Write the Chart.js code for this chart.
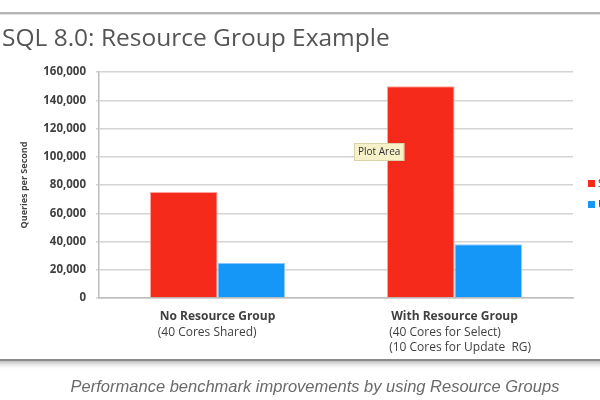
<!DOCTYPE html>
<html>
<head>
<meta charset="utf-8">
<style>
  html, body { margin: 0; padding: 0; background: #fff; }
  #wrap { width: 600px; height: 400px; }
</style>
<script src="https://cdn.jsdelivr.net/npm/chart.js@4.4.1/dist/chart.umd.min.js"></script>
<script>
// chart values
var categories = [
  ['No Resource Group', '(40 Cores Shared)'],
  ['With Resource Group', '(40 Cores for Select)', '(10 Cores for Update  RG)']
];
var seriesNames = ['Select', 'Update'];
var selectQps = [75000, 150000];
var updateQps = [25000, 38000];
var yMax = 160000;
var yStep = 20000;
var titleText = 'SQL 8.0: Resource Group Example';
var captionText = 'Performance benchmark improvements by using Resource Groups';
var yTitle = 'Queries per Second';
var hoverText = 'Plot Area';

var red = '#f62a1b';
var blue = '#1497f7';

// frame, title, legend, category labels, caption
var decor = {
  id: 'decor',
  afterDraw: function (c) {
    var ctx = c.ctx;
    var x = c.scales.x;
    var area = c.chartArea;
    ctx.save();

    // top rule
    ctx.fillStyle = '#b4b4b4';
    ctx.fillRect(0, 12, 600, 2);
    ctx.fillStyle = '#e2e2e2';
    ctx.fillRect(0, 14, 600, 1);

    // title
    ctx.fillStyle = '#555';
    ctx.font = '24.5px "Open Sans"';
    ctx.textAlign = 'left';
    ctx.textBaseline = 'middle';
    ctx.fillText(titleText, 2, 39);

    // y title
    ctx.save();
    ctx.translate(24, (area.top + area.bottom) / 2);
    ctx.rotate(-Math.PI / 2);
    ctx.textAlign = 'center';
    ctx.fillStyle = '#444';
    ctx.font = 'bold 9px "Open Sans"';
    ctx.fillText(yTitle, 0, 0);
    ctx.restore();

    // category labels: first line bold and centred, others left aligned under it
    ctx.textBaseline = 'middle';
    ctx.textAlign = 'left';
    categories.forEach(function (lines, i) {
      var cx = x.getPixelForValue(i);
      ctx.font = 'bold 12px "Open Sans"';
      var w = ctx.measureText(lines[0]).width;
      var left = cx - w / 2;
      ctx.fillStyle = '#404040';
      lines.forEach(function (t, j) {
        ctx.font = (j === 0 ? 'bold ' : '') + '12px "Open Sans"';
        ctx.fillText(t, j === 0 ? left : left - 2, area.bottom + 19 + j * 15.5);
      });
    });

    // legend (runs off the right edge)
    c.data.datasets.forEach(function (ds, i) {
      var ly = 180 + i * 21;
      ctx.fillStyle = ds.backgroundColor;
      ctx.fillRect(588, ly, 7, 7);
      ctx.fillStyle = '#404040';
      ctx.font = '11px "Open Sans"';
      ctx.fillText(ds.label, 598, ly + 4);
    });

    // "Plot Area" hover box
    ctx.font = '10px "Open Sans"';
    var tw = ctx.measureText(hoverText).width;
    ctx.fillStyle = '#f6f1c8';
    ctx.fillRect(354, 143, tw + 8, 18);
    ctx.strokeStyle = '#d9d3a8';
    ctx.lineWidth = 1;
    ctx.strokeRect(354.5, 143.5, tw + 7, 17);
    ctx.fillStyle = '#333';
    ctx.fillText(hoverText, 358, 152.5);

    // bottom rule with shadow
    var g = ctx.createLinearGradient(0, 360, 0, 370);
    g.addColorStop(0, 'rgba(120,120,120,0.6)');
    g.addColorStop(1, 'rgba(255,255,255,0)');
    ctx.fillStyle = g;
    ctx.fillRect(0, 360, 600, 10);
    ctx.fillStyle = '#8a8a8a';
    ctx.fillRect(0, 359, 600, 2);

    // caption
    ctx.fillStyle = '#6a6a6a';
    ctx.font = 'italic 16.5px "Liberation Sans"';
    ctx.textAlign = 'center';
    ctx.fillText(captionText, 315, 387);

    ctx.restore();
  }
};

document.addEventListener('DOMContentLoaded', function () {
  var ctx = document.getElementById('myChart');
  new Chart(ctx, {
    type: 'bar',
    data: {
      labels: categories,
      datasets: [{
        label: seriesNames[0],
        data: selectQps,
        backgroundColor: red,
        borderColor: 'rgba(255,140,130,0.8)',
        borderWidth: 1
      }, {
        label: seriesNames[1],
        data: updateQps,
        backgroundColor: blue,
        borderColor: 'rgba(120,190,255,0.8)',
        borderWidth: 1
      }]
    },
    options: {
      responsive: false,
      animation: false,
      devicePixelRatio: 1,
      layout: { padding: { top: 72, right: 27, left: 0, bottom: 0 } },
      datasets: { bar: { categoryPercentage: 0.57, barPercentage: 1 } },
      plugins: {
        legend: { display: false },
        tooltip: { enabled: false },
        title: { display: false }
      },
      scales: {
        x: {
          ticks: { display: false },
          grid: { display: false },
          border: { display: true, color: '#bdbdbd', width: 1.5 },
          afterFit: function (s) { s.height = 102; }
        },
        y: {
          min: 0,
          max: yMax,
          ticks: {
            stepSize: yStep,
            padding: 10,
            color: '#404040',
            font: { family: 'Open Sans', weight: 'bold', size: 11.5 },
            callback: function (v) { return v.toLocaleString('en-US'); }
          },
          grid: { color: '#d4d4d4', lineWidth: 1.5, tickLength: 3 },
          border: { color: '#bdbdbd', width: 1.5 },
          afterFit: function (s) { s.width = 99; }
        }
      }
    },
    plugins: [decor]
  });
});
</script>
</head>
<body>
<div id="wrap"><canvas id="myChart" width="600" height="400"></canvas></div>
</body>
</html>
